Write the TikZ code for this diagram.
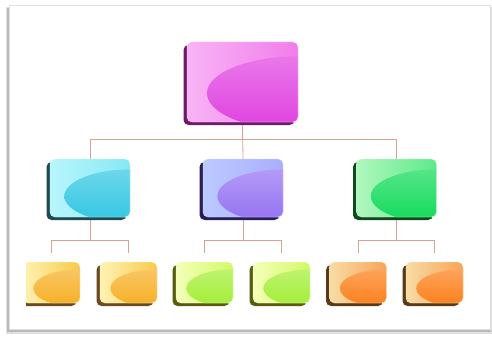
\documentclass[tikz,border=0pt]{standalone}
\usetikzlibrary{calc,shadows}
\pgfdeclarelayer{bg}
\pgfsetlayers{bg,main}
\definecolor{connc}{HTML}{D9A394}
\definecolor{pkA}{HTML}{F8B4F4}\definecolor{pkB}{HTML}{F27CEC}\definecolor{pkC}{HTML}{E040E0}\definecolor{pkD}{HTML}{6E1A6A}
\definecolor{cyA}{HTML}{B8F6FC}\definecolor{cyB}{HTML}{86E8F4}\definecolor{cyC}{HTML}{30C6E2}\definecolor{cyD}{HTML}{1E4A55}
\definecolor{puA}{HTML}{BCCAFF}\definecolor{puB}{HTML}{AAAEFF}\definecolor{puC}{HTML}{9470F2}\definecolor{puD}{HTML}{2A1E5A}
\definecolor{grA}{HTML}{B0F7BE}\definecolor{grB}{HTML}{5CEA88}\definecolor{grC}{HTML}{10DA58}\definecolor{grD}{HTML}{0E4A1E}
\definecolor{yeA}{HTML}{FFF2B4}\definecolor{yeB}{HTML}{F8CA48}\definecolor{yeC}{HTML}{F6AE22}\definecolor{yeD}{HTML}{6A4A20}
\definecolor{liA}{HTML}{F4FFB8}\definecolor{liB}{HTML}{D4F866}\definecolor{liC}{HTML}{A2EE34}\definecolor{liD}{HTML}{5A5A10}
\definecolor{orA}{HTML}{F8DCA4}\definecolor{orB}{HTML}{F8A458}\definecolor{orC}{HTML}{FC7E18}\definecolor{orD}{HTML}{5A3A18}
\tikzset{
  face/.style n args={4}{rectangle, rounded corners=5pt, inner sep=0pt,
    left color=#1, right color=#2, draw=#1!60!white, line width=0.4pt,
    /utils/exec={\colorlet{ellc}{#3}},
    general shadow={fill=#4, shadow xshift=-3.5pt, shadow yshift=-3pt},
    path picture={\path let \p1=(path picture bounding box.south west),
        \p2=(path picture bounding box.north east) in
        [top color=ellc!65!white, bottom color=ellc]
        ({\x2},{\y1+0.36*(\y2-\y1)}) ellipse [x radius={0.82*(\x2-\x1)}, y radius={0.46*(\y2-\y1)}];}},
  big/.style={minimum width=111pt, minimum height=80pt},
  mid/.style={minimum width=80pt, minimum height=58pt},
  small/.style={minimum width=57pt, minimum height=41pt},
  pinkbox/.style={face={pkA}{pkB}{pkC}{pkD}},
  cyanbox/.style={face={cyA}{cyB}{cyC}{cyD}},
  purplebox/.style={face={puA}{puB}{puC}{puD}},
  greenbox/.style={face={grA}{grB}{grC}{grD}},
  yellowbox/.style={face={yeA}{yeB}{yeC}{yeD}},
  limebox/.style={face={liA}{liB}{liC}{liD}},
  orangebox/.style={face={orA}{orB}{orC}{orD}},
  conn/.style={draw=connc, line width=0.8pt},
}
\begin{document}
\begin{tikzpicture}[x=1pt, y=-1pt]
\useasboundingbox (0,0) rectangle (492,337);
% nodes
\node[big, pinkbox] (top) at (242.5,82) {};
\node[mid, cyanbox] (c) at (90,188) {};
\node[mid, purplebox] (p) at (243,188) {};
\node[mid, greenbox] (g) at (396.5,188) {};
\begin{scope}
\clip (26,0) rectangle (492,337);
\node[small, yellowbox] (b1) at (51.5,282.5) {};
\end{scope}
\node[small, yellowbox] (b2) at (128.5,282.5) {};
\node[small, limebox] (b3) at (204.5,282.5) {};
\node[small, limebox] (b4) at (281.5,282.5) {};
\node[small, orangebox] (b5) at (358,282.5) {};
\node[small, orangebox] (b6) at (434.5,282.5) {};
\begin{pgfonlayer}{bg}
\fill[white] (0,0) rectangle (492,337);
\fill[gray!25] (6,7) rectangle (492,334);
\fill[gray!55] (7,8) rectangle (491,332);
\filldraw[fill=white, draw=gray!25, line width=0.5pt] (9.5,5) rectangle (490,329);
\draw[conn] (top.south) -- ++(0,17) -| (c.north);
\draw[conn] (top.south) -- ++(0,17) -| (g.north);
\draw[conn] (top.south) -- (p.north);
\draw[conn] (c.south) -- ++(0,23) -| ([yshift=9pt]b1.north);
\draw[conn] (c.south) -- ++(0,23) -| ([yshift=9pt]b2.north);
\draw[conn] (p.south) -- ++(0,23) -| ([yshift=9pt]b3.north);
\draw[conn] (p.south) -- ++(0,23) -| ([yshift=9pt]b4.north);
\draw[conn] (g.south) -- ++(0,23) -| ([yshift=9pt]b5.north);
\draw[conn] (g.south) -- ++(0,23) -| ([yshift=9pt]b6.north);
\end{pgfonlayer}
\end{tikzpicture}
\end{document}
